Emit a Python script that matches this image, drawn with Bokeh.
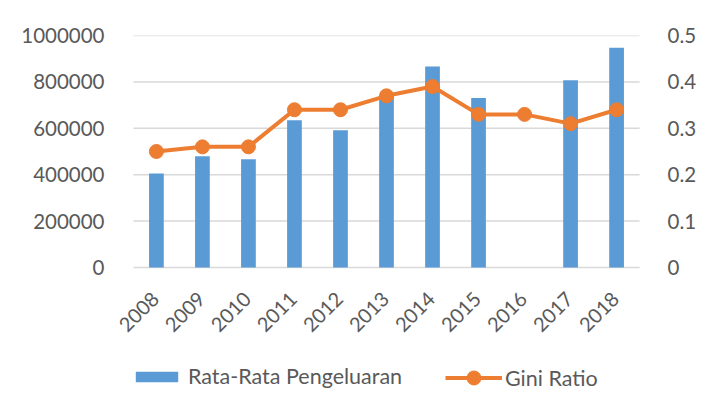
import math
from bokeh.plotting import figure
from bokeh.models import (Range1d, LinearAxis, FixedTicker, CustomJSTickFormatter,
                          Legend, LegendItem, FactorRange)
from bokeh.core.properties import value
from bokeh.embed import file_html
from bokeh.resources import INLINE

years = ["2008", "2009", "2010", "2011", "2012", "2013", "2014", "2015", "2016", "2017", "2018"]
pengeluaran = [405000, 480000, 467000, 635000, 592000, 740000, 866000, 731000, None, 807000, 947000]
gini = [0.25, 0.26, 0.26, 0.34, 0.34, 0.37, 0.39, 0.33, 0.33, 0.31, 0.34]
left_ticks = [0, 200000, 400000, 600000, 800000, 1000000]
right_ticks = [0, 0.1, 0.2, 0.3, 0.4, 0.5]

FONT = "Lato"
TXT = "#595959"
GRID = "#d9d9d9"
BLUE = "#5b9bd5"
ORANGE = "#ed7d31"

# layout (pixels)
W, H = 699, 405
TOP, LEFT, RIGHT = 35, 115, 39
FRAME_H = H - TOP          # frame reaches the bottom of the figure (room for labels + legend)
ZERO_PX = 232              # distance from top of frame to the zero line
LMAX, RMAX = 1000000, 0.5
l_start = -LMAX * (FRAME_H - ZERO_PX) / ZERO_PX
r_start = -RMAX * (FRAME_H - ZERO_PX) / ZERO_PX
PAD = 0.389                # side padding of the category range (in category units)

xr = FactorRange(*years, range_padding=PAD, range_padding_units="absolute")
p = figure(width=W, height=H, x_range=xr, y_range=Range1d(l_start, LMAX),
           x_axis_location=None, output_backend="svg", toolbar_location=None,
           min_border_left=LEFT, min_border_right=RIGHT, min_border_top=TOP, min_border_bottom=0)
p.outline_line_color = None
p.background_fill_color = "white"
p.border_fill_color = "white"
p.xgrid.grid_line_color = None
p.ygrid.grid_line_color = None

p.extra_y_ranges = {"gini": Range1d(r_start, RMAX)}

# horizontal gridlines spanning the category area
n = len(left_ticks)
p.segment(x0=[(years[0], -0.5)] * n, x1=[(years[-1], 0.5)] * n, y0=left_ticks, y1=left_ticks,
          line_color=GRID, line_width=1.5)

bar_vals = [float("nan") if v is None else v for v in pengeluaran]
bars = p.vbar(x=years, top=bar_vals, width=0.32, color=BLUE, line_color=None)
line = p.line(x=years, y=gini, y_range_name="gini", line_color=ORANGE, line_width=4)
pts = p.scatter(x=years, y=gini, y_range_name="gini", size=14, fill_color=ORANGE, line_color=ORANGE)

# category labels, rotated 45 degrees, ending under each category
p.text(x=years, y=[0] * len(years), text=years, angle=math.pi / 4,
       text_align="right", text_baseline="middle", y_offset=28, x_offset=-1,
       text_font=value(FONT), text_font_size="20px", text_color=TXT)

def style_axis(ax):
    ax.axis_line_color = None
    ax.major_tick_line_color = None
    ax.minor_tick_line_color = None
    ax.major_label_text_font = FONT
    ax.major_label_text_font_size = "20.5px"
    ax.major_label_text_color = TXT

yl = p.yaxis[0]
yl.ticker = FixedTicker(ticks=left_ticks)
yl.formatter = CustomJSTickFormatter(code="return Math.round(tick).toString();")
style_axis(yl)
yl.major_label_standoff = 5

yr = LinearAxis(y_range_name="gini", ticker=FixedTicker(ticks=right_ticks),
                formatter=CustomJSTickFormatter(code="return (Math.round(tick*10)/10).toString();"))
style_axis(yr)
yr.major_label_standoff = 4
p.add_layout(yr, "right")

def mk_legend(item, x, y, gw, gh, standoff):
    return Legend(items=[item], location=(x, y), orientation="horizontal",
                  label_text_font=FONT, label_text_font_size="21.5px", label_text_color=TXT,
                  glyph_width=gw, glyph_height=gh, label_standoff=standoff, padding=0, margin=0,
                  border_line_color=None, background_fill_alpha=0, label_height=24)

p.add_layout(mk_legend(LegendItem(label="Rata-Rata Pengeluaran", renderers=[bars]),
                       15, 16, 53, 13, 5), "center")
p.add_layout(mk_legend(LegendItem(label="Gini Ratio", renderers=[line, pts]),
                       330, 10, 57, 35, 3), "center")

open("out.html", "w").write(file_html(p, INLINE))
